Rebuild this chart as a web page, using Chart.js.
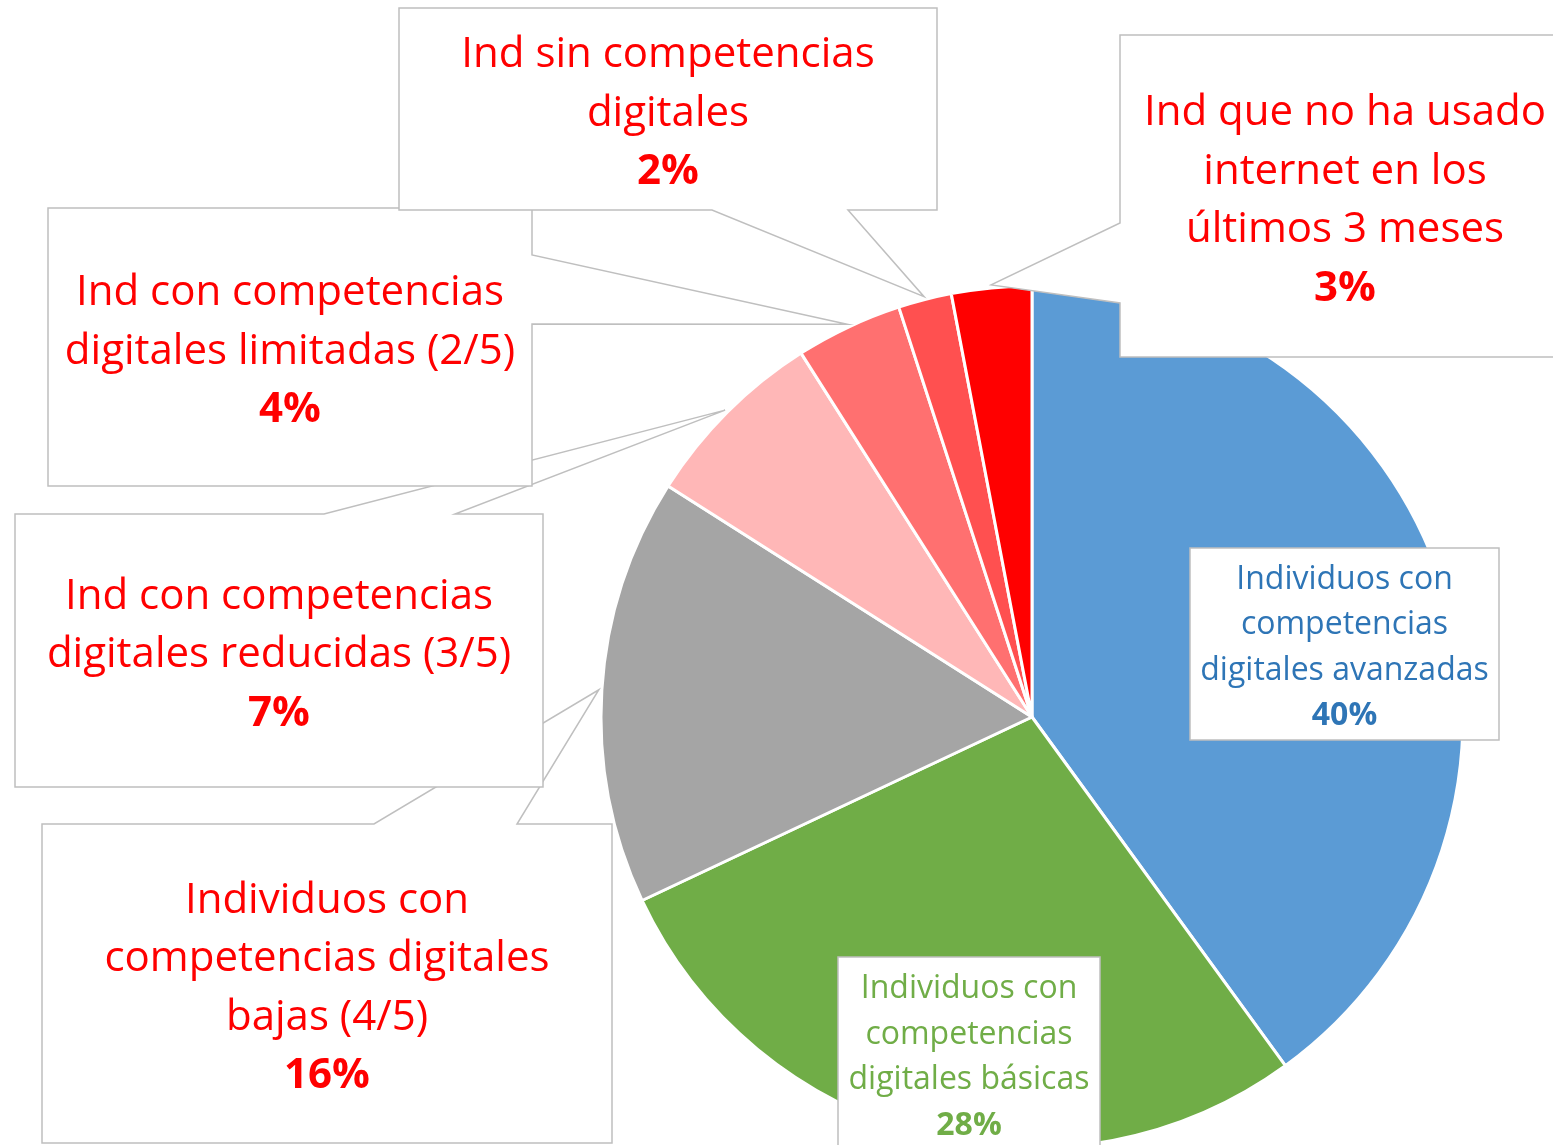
<!DOCTYPE html>
<html>
<head>
<meta charset="utf-8">
<script src="https://cdn.jsdelivr.net/npm/chart.js@4.4.1/dist/chart.umd.min.js"></script>
<style>
  html, body { margin: 0; padding: 0; background: #fff; overflow: hidden; }
</style>
</head>
<body>
<canvas id="pie" width="1553" height="1145"></canvas>
<script>
// data, clockwise from 12 o'clock
var categories = [
  ['Individuos con', 'competencias', 'digitales avanzadas'],
  ['Individuos con', 'competencias', 'digitales básicas'],
  ['Individuos con', 'competencias digitales', 'bajas (4/5)'],
  ['Ind con competencias', 'digitales reducidas (3/5)'],
  ['Ind con competencias', 'digitales limitadas (2/5)'],
  ['Ind sin competencias', 'digitales'],
  ['Ind que no ha usado', 'internet en los', 'últimos 3 meses']
];
var values = [40, 28, 16, 7, 4, 2, 3];
var sliceColors = ['#5B9BD5', '#70AD47', '#A5A5A5', '#FFB7B7', '#FF7070', '#FF5050', '#FF0000'];
var labelColors = ['#2E75B6', '#70AD47', '#FF0000', '#FF0000', '#FF0000', '#FF0000', '#FF0000'];

// callout boxes (drawn in this order so the overlaps come out like the original)
var callouts = [
  { i: 2, box: [42, 824, 612, 1143], side: 'top', base: [374, 517] },
  { i: 3, box: [15, 514, 543, 787], side: 'top', base: [324, 455] },
  { i: 4, box: [48, 208, 532, 486], side: 'right', base: [255, 324] },
  { i: 5, box: [399, 8, 937, 210], side: 'bottom', base: [712, 848] },
  { i: 6, box: [1120, 35, 1570, 357], side: 'left', base: [223, 303] },
  { i: 0, box: [1190, 548, 1499, 740], small: true },
  { i: 1, box: [838, 957, 1100, 1150], small: true }
];

var calloutPlugin = {
  id: 'callouts',
  afterDatasetsDraw: function(chart) {
    var ctx = chart.ctx;
    var meta = chart.getDatasetMeta(0);
    callouts.forEach(function(c) {
      var arc = meta.data[c.i];
      var mid = (arc.startAngle + arc.endAngle) / 2;
      var r = arc.outerRadius + 3;
      var tx = arc.x + r * Math.cos(mid), ty = arc.y + r * Math.sin(mid);
      var x1 = c.box[0], y1 = c.box[1], x2 = c.box[2], y2 = c.box[3];

      ctx.save();
      ctx.beginPath();
      ctx.moveTo(x1, y1);
      if (c.side === 'top') { ctx.lineTo(c.base[0], y1); ctx.lineTo(tx, ty); ctx.lineTo(c.base[1], y1); }
      ctx.lineTo(x2, y1);
      if (c.side === 'right') { ctx.lineTo(x2, c.base[0]); ctx.lineTo(tx, ty); ctx.lineTo(x2, c.base[1]); }
      ctx.lineTo(x2, y2);
      if (c.side === 'bottom') { ctx.lineTo(c.base[1], y2); ctx.lineTo(tx, ty); ctx.lineTo(c.base[0], y2); }
      ctx.lineTo(x1, y2);
      if (c.side === 'left') { ctx.lineTo(x1, c.base[1]); ctx.lineTo(tx, ty); ctx.lineTo(x1, c.base[0]); }
      ctx.closePath();
      ctx.fillStyle = '#ffffff';
      ctx.fill();
      ctx.lineWidth = 1.5;
      ctx.strokeStyle = '#BFBFBF';
      ctx.stroke();

      var size = c.small ? 32 : 42;
      var lh = c.small ? 45.5 : 58.5;
      var lines = categories[c.i].concat([values[c.i] + '%']);
      var cx = (x1 + x2) / 2;
      var cy = (y1 + y2) / 2 + (c.small ? 4 : 5);
      var y0 = cy - (lines.length - 1) * lh / 2;
      ctx.fillStyle = labelColors[c.i];
      ctx.textAlign = 'center';
      ctx.textBaseline = 'middle';
      lines.forEach(function(t, k) {
        var bold = k === lines.length - 1;
        ctx.font = (bold ? 'bold ' : '') + size + 'px "Open Sans"';
        ctx.fillText(t, cx, y0 + k * lh);
      });
      ctx.restore();
    });
  }
};

new Chart(document.getElementById('pie'), {
  type: 'pie',
  data: {
    labels: categories,
    datasets: [{
      data: values,
      backgroundColor: sliceColors,
      borderColor: '#ffffff',
      borderWidth: 3,
      radius: 431
    }]
  },
  options: {
    responsive: false,
    animation: false,
    devicePixelRatio: 1,
    layout: { padding: { left: 602, right: 91, top: 289, bottom: 0 } },
    plugins: {
      legend: { display: false },
      tooltip: { enabled: false }
    }
  },
  plugins: [calloutPlugin]
});
</script>
</body>
</html>
